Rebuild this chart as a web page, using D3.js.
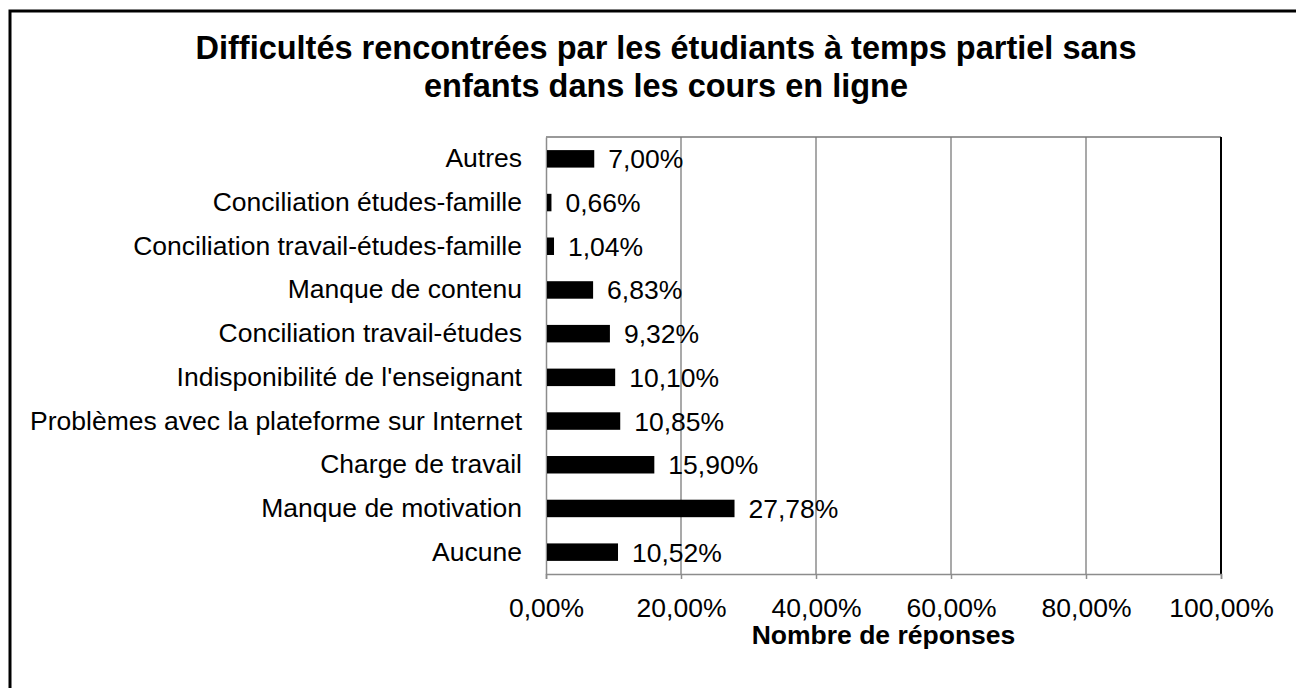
<!doctype html>
<html>
<head>
<meta charset="utf-8">
<script src="https://d3js.org/d3.v7.min.js"></script>
<style>
  body { margin: 0; background: #fff; }
  svg { font-family: "Liberation Sans", Arial, sans-serif; display: block; }
</style>
</head>
<body>
<svg width="1296" height="688"></svg>
<script>
// categories, top to bottom
var categories = ["Autres", "Conciliation études-famille", "Conciliation travail-études-famille",
  "Manque de contenu", "Conciliation travail-études", "Indisponibilité de l'enseignant",
  "Problèmes avec la plateforme sur Internet", "Charge de travail", "Manque de motivation", "Aucune"];
var values = [7.00, 0.66, 1.04, 6.83, 9.32, 10.10, 10.85, 15.90, 27.78, 10.52];
var xTicks = [0, 20, 40, 60, 80, 100];
var titleLines = ["Difficultés rencontrées par les étudiants à temps partiel sans", "enfants dans les cours en ligne"];
var xTitle = "Nombre de réponses";

var svg = d3.select("svg");
var fmt = function(v) { return v.toFixed(2).replace(".", ",") + "%"; };
var fs = 26.5;

// outer frame (right/bottom edges fall outside the picture)
svg.append("rect")
  .attr("x", 10).attr("y", 11)
  .attr("width", 1300).attr("height", 700)
  .attr("fill", "none").attr("stroke", "#000").attr("stroke-width", 3);

var pL = 546, pT = 137, pR = 1221, pB = 574;

var x = d3.scaleLinear().domain([0, 100]).range([pL, pR]);
var y = d3.scaleBand().domain(categories).range([pT, pB]).paddingInner(0.6).paddingOuter(0.3);

// gridlines
svg.append("g").selectAll("line")
  .data(xTicks.slice(1))
  .enter().append("line")
  .attr("x1", function(d) { return x(d); }).attr("x2", function(d) { return x(d); })
  .attr("y1", pT).attr("y2", pB)
  .attr("stroke", "#8c8c8c").attr("stroke-width", 1.5);

// plot border top + right
svg.append("line").attr("x1", pL).attr("x2", pR).attr("y1", pT).attr("y2", pT)
  .attr("stroke", "#777").attr("stroke-width", 1.5);
svg.append("line").attr("x1", pR).attr("x2", pR).attr("y1", pT).attr("y2", pB)
  .attr("stroke", "#000").attr("stroke-width", 2);

// x axis
var xAxis = svg.append("g")
  .attr("transform", "translate(0," + pB + ")")
  .call(d3.axisBottom(x).tickValues(xTicks).tickSize(5).tickPadding(0).tickFormat(fmt));
xAxis.select(".domain").attr("stroke", "#8c8c8c").attr("stroke-width", 1.5);
xAxis.selectAll(".tick line").attr("stroke", "#8c8c8c").attr("stroke-width", 1.5);
xAxis.selectAll("text").attr("font-size", fs).attr("fill", "#000")
  .attr("dy", null).attr("y", 43)
  .attr("font-family", "Liberation Sans, Arial, sans-serif");

// y axis
var yAxis = svg.append("g")
  .attr("transform", "translate(" + pL + ",0)")
  .call(d3.axisLeft(y).tickSize(0).tickPadding(24));
yAxis.select(".domain").attr("stroke", "#8c8c8c").attr("stroke-width", 1.5);
yAxis.selectAll("text").attr("font-size", fs).attr("fill", "#000")
  .attr("font-family", "Liberation Sans, Arial, sans-serif");

// bars
svg.append("g").selectAll("rect")
  .data(values)
  .enter().append("rect")
  .attr("x", x(0) + 1)
  .attr("y", function(d, i) { return y(categories[i]); })
  .attr("width", function(d) { return x(d) - x(0); })
  .attr("height", y.bandwidth())
  .attr("fill", "#000");

// data labels
svg.append("g").selectAll("text")
  .data(values)
  .enter().append("text")
  .attr("x", function(d) { return x(d) + 15; })
  .attr("y", function(d, i) { return y(categories[i]) + y.bandwidth() / 2; })
  .attr("dy", "0.36em")
  .attr("font-size", fs)
  .text(fmt);

// titles
svg.append("g").selectAll("text")
  .data(titleLines)
  .enter().append("text")
  .attr("x", 666)
  .attr("y", function(d, i) { return 59 + i * 38; })
  .attr("text-anchor", "middle")
  .attr("font-size", 32.5).attr("font-weight", "bold")
  .text(function(d) { return d; });

svg.append("text")
  .attr("x", (pL + pR) / 2).attr("y", 644)
  .attr("text-anchor", "middle")
  .attr("font-size", fs).attr("font-weight", "bold")
  .text(xTitle);
</script>
</body>
</html>
